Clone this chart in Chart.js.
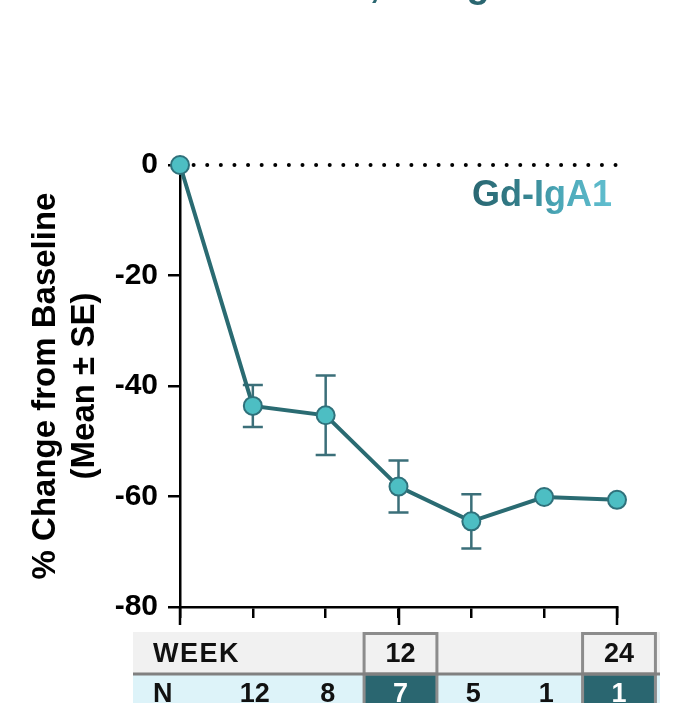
<!DOCTYPE html>
<html>
<head>
<meta charset="utf-8">
<script src="https://cdn.jsdelivr.net/npm/chart.js@4/dist/chart.umd.min.js"></script>
<style>
  html, body { margin: 0; padding: 0; background: #ffffff; }
  #wrap { width: 676px; height: 703px; position: relative; overflow: hidden; }
  canvas { display: block; }
</style>
</head>
<body>
<div id="wrap"><canvas id="c" width="676" height="703"></canvas></div>
<script>
// Study visits (weeks) and the mean % change of Gd-IgA1 from baseline
const weeks = [0, 4, 8, 12, 16, 20, 24];
const meanChange = [0, -43.6, -45.3, -58.2, -64.5, -60.1, -60.6];
const seChange = [null, 3.8, 7.2, 4.7, 4.9, null, null];
// Rows of the table under the x axis
const weekLabels = ['', '', '', '12', '', '', '24'];
const nCounts = [null, 12, 8, 7, 5, 1, 1];
const yTicks = [0, -20, -40, -60, -80];

const FONT = '"Liberation Sans", Arial, Helvetica, sans-serif';
const DARK_TEAL = '#2a6670';
const LINE_TEAL = '#2a6b72';
const POINT_FILL = '#4dbec3';
const POINT_EDGE = '#2f717b';
const BAR_TEAL = '#3b6f79';

// dotted reference line at 0 %
const zeroLine = {
  id: 'zeroLine',
  beforeDatasetsDraw(chart) {
    const { ctx, chartArea, scales } = chart;
    const y = scales.y.getPixelForValue(0);
    ctx.save();
    ctx.strokeStyle = '#000';
    ctx.lineWidth = 4;
    ctx.lineCap = 'round';
    ctx.setLineDash([0.01, 13.6]);
    ctx.beginPath();
    ctx.moveTo(chartArea.left, y);
    ctx.lineTo(chartArea.right + 1, y);
    ctx.stroke();
    ctx.restore();
  }
};

// mean ± SE whiskers
const errorBars = {
  id: 'errorBars',
  beforeDatasetsDraw(chart) {
    const { ctx, scales } = chart;
    ctx.save();
    ctx.strokeStyle = BAR_TEAL;
    ctx.lineWidth = 2.5;
    weeks.forEach((w, i) => {
      const se = seChange[i];
      if (se == null) return;
      const x = scales.x.getPixelForValue(w);
      const yTop = scales.y.getPixelForValue(meanChange[i] + se);
      const yBot = scales.y.getPixelForValue(meanChange[i] - se);
      ctx.beginPath();
      ctx.moveTo(x, yTop); ctx.lineTo(x, yBot);
      ctx.moveTo(x - 10, yTop); ctx.lineTo(x + 10, yTop);
      ctx.moveTo(x - 10, yBot); ctx.lineTo(x + 10, yBot);
      ctx.stroke();
    });
    ctx.restore();
  }
};

// longer tick marks at labelled weeks, the week/N table and the text labels
const extras = {
  id: 'extras',
  afterDraw(chart) {
    const { ctx, chartArea, scales } = chart;
    const xs = scales.x;
    const step = xs.getPixelForValue(weeks[1]) - xs.getPixelForValue(weeks[0]);
    ctx.save();

    // major ticks
    ctx.strokeStyle = '#000';
    ctx.lineWidth = 2.5;
    weeks.forEach((w, i) => {
      if (i !== 0 && !weekLabels[i]) return;
      const x = Math.round(xs.getPixelForValue(w));
      ctx.beginPath();
      ctx.moveTo(x, chartArea.bottom);
      ctx.lineTo(x, chartArea.bottom + 18);
      ctx.stroke();
    });

    // table
    const tLeft = 133, tRight = 660;
    const r1Top = 632, r1Bot = 674, r2Bot = 710;
    ctx.fillStyle = '#f1f1f1';
    ctx.fillRect(tLeft, r1Top, tRight - tLeft, r1Bot - r1Top);
    ctx.fillStyle = '#ddf3f9';
    ctx.fillRect(tLeft, r1Bot, tRight - tLeft, r2Bot - r1Bot);

    const colX = weeks.map(w => xs.getPixelForValue(w) + 2);
    // highlighted columns
    weeks.forEach((w, i) => {
      if (!weekLabels[i]) return;
      const cx = colX[i];
      ctx.fillStyle = DARK_TEAL;
      ctx.fillRect(cx - step / 2, r1Bot, step, r2Bot - r1Bot);
      ctx.strokeStyle = '#8c8c8c';
      ctx.lineWidth = 3;
      ctx.strokeRect(cx - step / 2, r1Top + 1.5, step, r1Bot - r1Top - 1.5);
      ctx.beginPath();
      ctx.moveTo(cx - step / 2, r1Bot); ctx.lineTo(cx - step / 2, r2Bot);
      ctx.moveTo(cx + step / 2, r1Bot); ctx.lineTo(cx + step / 2, r2Bot);
      ctx.stroke();
    });
    // divider between rows
    ctx.strokeStyle = '#808080';
    ctx.lineWidth = 3;
    ctx.beginPath();
    ctx.moveTo(tLeft, r1Bot); ctx.lineTo(tRight, r1Bot);
    ctx.stroke();

    ctx.font = 'bold 27px ' + FONT;
    ctx.textBaseline = 'alphabetic';
    ctx.fillStyle = '#111';
    ctx.textAlign = 'left';
    ctx.letterSpacing = '1.5px';
    ctx.fillText('WEEK', 153, 662);
    ctx.letterSpacing = '0px';
    ctx.fillText('N', 153, 702);
    ctx.textAlign = 'center';
    weeks.forEach((w, i) => {
      const cx = colX[i];
      if (weekLabels[i]) {
        ctx.fillStyle = '#111';
        ctx.fillText(weekLabels[i], cx, 662);
      }
      if (nCounts[i] != null) {
        ctx.fillStyle = weekLabels[i] ? '#ffffff' : '#111';
        ctx.fillText(String(nCounts[i]), cx, 702);
      }
    });

    // series label
    ctx.font = 'bold 36px ' + FONT;
    ctx.textAlign = 'right';
    const grad = ctx.createLinearGradient(474, 0, 612, 0);
    grad.addColorStop(0, '#2a6873');
    grad.addColorStop(0.35, '#347f8b');
    grad.addColorStop(0.6, '#4aa6b6');
    grad.addColorStop(1, '#62bfd0');
    ctx.fillStyle = grad;
    ctx.fillText('Gd-IgA1', 612, 206);

    // heading above the chart (runs off the top edge)
    ctx.font = 'bold 38px ' + FONT;
    ctx.fillStyle = DARK_TEAL;
    ctx.textAlign = 'right';
    ctx.fillText('Biomarker,', 380, -3);
    ctx.textAlign = 'left';
    ctx.fillText(' Gd-IgA1', 380, -3);

    ctx.restore();
  }
};

new Chart(document.getElementById('c'), {
  type: 'line',
  data: {
    datasets: [{
      data: weeks.map((w, i) => ({ x: w, y: meanChange[i] })),
      borderColor: LINE_TEAL,
      borderWidth: 4,
      pointRadius: 9,
      pointBorderWidth: 2,
      pointBackgroundColor: POINT_FILL,
      pointBorderColor: POINT_EDGE,
      tension: 0,
      clip: false
    }]
  },
  options: {
    responsive: false,
    animation: false,
    devicePixelRatio: 1,
    layout: { padding: { top: 165, right: 59, bottom: 0, left: 0 } },
    plugins: { legend: { display: false }, tooltip: { enabled: false } },
    scales: {
      x: {
        type: 'linear',
        min: 0, max: 24,
        ticks: { display: false, stepSize: 4 },
        afterBuildTicks(scale) { scale.ticks = weeks.map(v => ({ value: v })); },
        grid: { drawOnChartArea: false, drawTicks: true, tickLength: 11, color: '#000', lineWidth: 2.5 },
        border: { display: true, color: '#000', width: 2.5 },
        afterFit(scale) { scale.height = 96; }
      },
      y: {
        min: -80, max: 0,
        afterBuildTicks(scale) { scale.ticks = yTicks.map(v => ({ value: v })); },
        ticks: {
          color: '#000',
          padding: 10,
          font: { family: FONT, size: 30, weight: 'bold' }
        },
        grid: { drawOnChartArea: false, drawTicks: true, tickLength: 12, color: '#000', lineWidth: 2.5 },
        border: { display: true, color: '#000', width: 2.5 },
        title: {
          display: true,
          text: ['% Change from Baseline', '(Mean ± SE)'],
          color: '#000',
          font: { family: FONT, size: 33, weight: 'bold', lineHeight: 1.2 },
          padding: { top: 26, bottom: 0 }
        },
        afterFit(scale) { scale.width = 180; }
      }
    }
  },
  plugins: [zeroLine, errorBars, extras]
});
</script>
</body>
</html>
